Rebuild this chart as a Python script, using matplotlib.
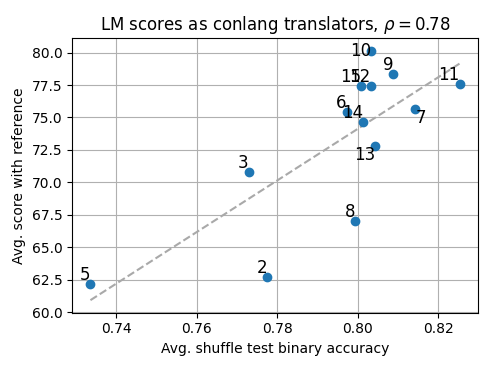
import numpy as np
import matplotlib
matplotlib.use("Agg")
import matplotlib.pyplot as plt

# modelos (rótulos) e valores
modelos = ["2", "3", "5", "6", "7", "8", "9", "10", "11", "12", "13", "14", "15"]
acuracia = [0.7775, 0.7729, 0.7336, 0.7973, 0.8144, 0.7994, 0.8089,
            0.8034, 0.8254, 0.8033, 0.8044, 0.8013, 0.8009]
pontuacao = [62.68, 70.77, 62.19, 75.39, 75.66, 67.06, 78.32,
             80.15, 77.55, 77.45, 72.79, 74.66, 77.45]

# alinhamento dos rótulos (como ficaram no original)
alinhamento = {"7": ("left", "top"), "13": ("right", "top"), "10": ("right", "center")}

x = np.array(acuracia)
y = np.array(pontuacao)

fig, ax = plt.subplots(figsize=(4.93, 3.70), dpi=100)
ax.scatter(x, y, zorder=3)
for nome, xi, yi in zip(modelos, x, y):
    ha, va = alinhamento.get(nome, ("right", "bottom"))
    ax.text(xi, yi, nome, fontsize=12, ha=ha, va=va, zorder=4)

# reta de tendência
a, b = np.polyfit(x, y, 1)
xs = np.array([x.min(), x.max()])
ax.plot(xs, a * xs + b, "--", color="darkgray", linewidth=1.5)

ax.grid(True)
ax.set_xlabel("Avg. shuffle test binary accuracy")
ax.set_ylabel("Avg. score with reference")
ax.set_title(r"LM scores as conlang translators, $\rho = 0.78$")
fig.subplots_adjust(left=0.146, right=0.97, bottom=0.155, top=0.897)
fig.savefig("out.png")
